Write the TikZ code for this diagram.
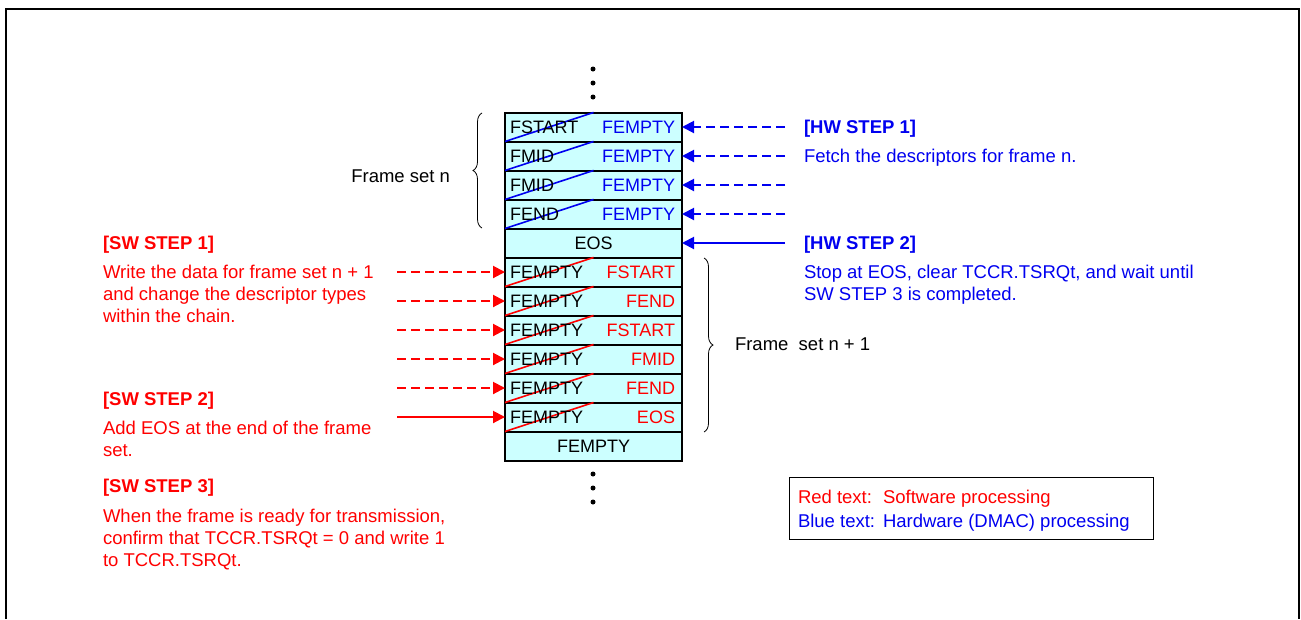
\documentclass[tikz,border=0pt]{standalone}
\usepackage{fontspec}
\setmainfont{Liberation Sans}
\usetikzlibrary{arrows.meta,decorations.pathreplacing,calc}
\definecolor{cellfill}{RGB}{204,255,255}
\definecolor{hwblue}{RGB}{0,0,240}
\definecolor{swred}{RGB}{255,0,0}
\begin{document}
\begin{tikzpicture}[x=1pt,y=-1pt,
  every node/.style={inner sep=0pt,outer sep=0pt},
  txt/.style={font=\fontsize{18.5}{22}\selectfont},
  rtxt/.style={font=\fontsize{18}{22}\selectfont},
  btxt/.style={font=\fontsize{18.5}{22}\selectfont\bfseries},
  row/.style={draw=black,line width=2pt,fill=cellfill,minimum width=177pt,minimum height=29pt},
  hwtxt/.style={txt,text=hwblue,align=left,anchor=base west},
  swtxt/.style={txt,text=swred,align=left,anchor=base west},
  hwarrow/.style={draw=hwblue,line width=2pt,-{Triangle[length=12pt,width=12pt]}},
  swarrow/.style={draw=swred,line width=2pt,-{Triangle[length=12pt,width=12pt]}},
  dashes/.style={dash pattern=on 9pt off 5pt},
  diag/.style={line width=1.6pt},
  bracestyle/.style={draw=black,line width=0.8pt,decorate,decoration={brace,amplitude=9pt}},
  dot/.style={fill=black}
]
\useasboundingbox (0,0) rectangle (1301,619);
% outer frame (open at bottom)
\draw[line width=2pt] (6,619) -- (6,9) -- (1299,9) -- (1299,619);

% rows
\foreach \i in {1,...,12}{
  \node[row] (r\i) at (593.5,{127+29*(\i-1)}) {};
}
% diagonals
\foreach \i in {1,...,4}{\draw[diag,hwblue] (r\i.south west) -- (r\i.north);}
\foreach \i in {6,...,11}{\draw[diag,swred] (r\i.south west) -- (r\i.north);}

% row texts
\node[rtxt,anchor=west] (l1) at ($(r1.west)+(5,0)$) {FSTART};
\node[rtxt,anchor=west] (l2) at ($(r2.west)+(5,0)$) {FMID};
\node[rtxt,anchor=west] (l3) at ($(r3.west)+(5,0)$) {FMID};
\node[rtxt,anchor=west] (l4) at ($(r4.west)+(5,0)$) {FEND};
\foreach \i in {1,...,4}{
  \node[rtxt,anchor=east,text=hwblue] (e\i) at ($(r\i.east)+(-7,0)$) {FEMPTY};
}
\node[rtxt] (eos) at (r5) {EOS};
\foreach \i in {6,...,11}{
  \node[rtxt,anchor=west] (l\i) at ($(r\i.west)+(5,0)$) {FEMPTY};
}
\node[rtxt,anchor=east,text=swred] (n6) at ($(r6.east)+(-7,0)$) {FSTART};
\node[rtxt,anchor=east,text=swred] (n7) at ($(r7.east)+(-7,0)$) {FEND};
\node[rtxt,anchor=east,text=swred] (n8) at ($(r8.east)+(-7,0)$) {FSTART};
\node[rtxt,anchor=east,text=swred] (n9) at ($(r9.east)+(-7,0)$) {FMID};
\node[rtxt,anchor=east,text=swred] (n10) at ($(r10.east)+(-7,0)$) {FEND};
\node[rtxt,anchor=east,text=swred] (n11) at ($(r11.east)+(-7,0)$) {EOS};
\node[rtxt] (fe) at (r12) {FEMPTY};

% dots
\foreach \y in {69,83,97,474,488,502}{\fill[dot] (593,\y) circle (2.5pt);}

% HW arrows
\foreach \i in {1,...,4}{
  \coordinate (h\i) at ($(r\i.east)+(103,0)$);
  \draw[hwarrow,dashes] (h\i) -- (r\i.east);
}
\coordinate (h5) at ($(r5.east)+(103,0)$);
\draw[hwarrow] (h5) -- (r5.east);

% SW arrows
\foreach \i in {6,...,10}{
  \coordinate (s\i) at ($(r\i.west)+(-108,0)$);
  \draw[swarrow,dashes] (s\i) -- (r\i.west);
}
\coordinate (s11) at ($(r11.west)+(-108,0)$);
\draw[swarrow] (s11) -- (r11.west);

% braces
\coordinate (b1a) at (482,228);
\coordinate (b1b) at (482,113);
\draw[bracestyle] (b1a) -- (b1b);
\node[txt,anchor=east] (fsn) at (450,176) {Frame set n};
\coordinate (b2a) at (704,258);
\coordinate (b2b) at (704,432);
\draw[bracestyle] (b2a) -- (b2b);
\node[txt,anchor=base west] (fsn1) at (735,350) {Frame\ \ set n + 1};

% HW texts
\node[hwtxt,btxt] (hw1) at (804,133) {[HW STEP 1]};
\node[hwtxt] (hw1t) at (804,162) {Fetch the descriptors for frame n.};
\node[hwtxt,btxt] (hw2) at (804,249) {[HW STEP 2]};
\node[hwtxt] (hw2t) at (804,300) {Stop at EOS, clear TCCR.TSRQt, and wait until\\SW STEP 3 is completed.};

% SW texts
\node[swtxt,btxt] (sw1) at (103,249) {[SW STEP 1]};
\node[swtxt] (sw1t) at (103,322) {Write the data for frame set n + 1\\and change the descriptor types\\within the chain.};
\node[swtxt,btxt] (sw2) at (103,405) {[SW STEP 2]};
\node[swtxt] (sw2t) at (103,456) {Add EOS at the end of the frame\\set.};
\node[swtxt,btxt] (sw3) at (103,492) {[SW STEP 3]};
\node[swtxt] (sw3t) at (103,566) {When the frame is ready for transmission,\\confirm that TCCR.TSRQt = 0 and write 1\\to TCCR.TSRQt.};

% legend
\node[draw=black,line width=1pt,minimum width=364pt,minimum height=62pt] (leg) at (971,508) {};
\node[txt,anchor=base west,text=swred] (lr1) at (798,503) {Red text:};
\node[txt,anchor=base west,text=swred] (lr2) at (883,503) {Software processing};
\node[txt,anchor=base west,text=hwblue] (lb1) at (798,527) {Blue text:};
\node[txt,anchor=base west,text=hwblue] (lb2) at (883,527) {Hardware (DMAC) processing};
\end{tikzpicture}
\end{document}
